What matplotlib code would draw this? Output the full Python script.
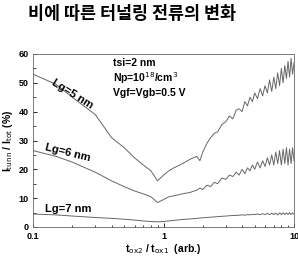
import matplotlib.pyplot as plt
from matplotlib.ticker import MultipleLocator, NullFormatter, LogLocator

x_ratio = [0.1, 0.15, 0.2, 0.3, 0.4, 0.5, 0.6, 0.7, 0.8, 0.9,
           1.0, 1.1, 1.2, 1.4, 1.6, 1.8, 1.9, 2.0,
           2.15, 2.3, 2.45, 2.6, 2.8,
           3.0, 3.2, 3.4, 3.6, 3.8,
           4.0, 4.2, 4.4, 4.6, 4.8,
           5.0, 5.25, 5.5, 5.75,
           6.0, 6.25, 6.5, 6.75,
           7.0, 7.25, 7.5, 7.75,
           8.0, 8.25, 8.5, 8.75,
           9.0, 9.25, 9.5, 9.75, 10.0]

lg5 = [53, 49.5, 45, 39, 31, 27.5, 24, 21.5, 19.5, 16,
       18, 19.5, 20.5, 22, 23.5, 24.5, 23, 26,
       29, 31, 32.5, 33, 35.5,
       36.5, 38.5, 37.5, 40.5, 41,
       40, 43.5, 42, 45, 43.5,
       46.5, 44.5, 48, 45.5,
       49, 46.5, 51, 47,
       52, 48, 53.5, 49,
       55, 50, 56, 51.5,
       57.5, 52, 58.5, 53, 57]

lg6 = [26.5, 24.5, 22.5, 19, 16, 14, 12.5, 11.5, 10.5, 8.5,
       9.5, 10.5, 10.8, 11.5, 12, 12.8, 13.5, 13,
       14.5, 14, 15.5, 15, 17,
       16.5, 18, 17.5, 19, 18,
       20, 18.5, 20.5, 19.5, 21.5,
       20, 22.5, 20.5, 23,
       21, 24, 21.5, 25,
       21.5, 26, 22, 26.5,
       21.5, 27, 22, 27.5,
       21.5, 27, 22, 27.5, 23]

lg7 = [4.5, 4.2, 3.8, 3.3, 3.0, 2.7, 2.4, 2.1, 1.9, 1.8,
       1.9, 2.1, 2.3, 2.6, 2.8, 3.0, 3.1, 3.2,
       3.3, 3.4, 3.5, 3.6, 3.7,
       3.8, 3.9, 4.0, 4.0, 4.1,
       4.2, 4.1, 4.3, 4.2, 4.4,
       4.3, 4.5, 4.3, 4.6,
       4.3, 4.7, 4.3, 4.8,
       4.3, 4.8, 4.2, 4.9,
       4.3, 4.9, 4.3, 4.9,
       4.3, 5.0, 4.3, 4.9, 4.4]

plt.rcParams['font.family'] = ['Liberation Sans', 'Noto Sans CJK KR']

fig = plt.figure(figsize=(2.98, 2.57), dpi=100)
ax = fig.add_axes([33/298, 1 - 227/257, 261/298, 173/257])

for y in (lg5, lg6, lg7):
    ax.plot(x_ratio, y, color='#666666', lw=0.7)

ax.set_xscale('log')
ax.set_xlim(0.1, 10)
ax.set_ylim(0, 60)
ax.set_xticks([0.1, 1, 10])
ax.set_xticklabels(['0.1', '1', '10'])
ax.xaxis.set_minor_locator(LogLocator(base=10, subs=range(2, 10)))
ax.xaxis.set_minor_formatter(NullFormatter())
ax.yaxis.set_major_locator(MultipleLocator(10))
ax.yaxis.set_minor_locator(MultipleLocator(5))
ax.tick_params(which='both', direction='in', labelsize=6.5)
ax.tick_params(axis='y', pad=3)
ax.tick_params(axis='x', pad=3.5)
ax.tick_params(which='major', length=3, width=0.6)
ax.tick_params(which='minor', length=1.8, width=0.5)
for lbl in ax.get_xticklabels() + ax.get_yticklabels():
    lbl.set_fontweight('bold')
for s in ax.spines.values():
    s.set_linewidth(0.6)
    s.set_color('#666666')

ax.set_ylabel(r'I$_{\rm tunn}$ / I$_{\rm tot}$ (%)', fontsize=7.5, fontweight='bold', labelpad=3)
ax.set_xlabel(r't$_{\rm ox2}$ / t$_{\rm ox1}$  (arb.)', fontsize=7.5, fontweight='bold', labelpad=1)

ax.text(0.2, 46, 'Lg=5 nm', rotation=-32, fontsize=8, fontweight='bold',
        ha='center', va='center')
ax.text(0.185, 25.7, 'Lg=6 nm', rotation=-14, fontsize=8, fontweight='bold',
        ha='center', va='center')
ax.text(0.185, 6.4, 'Lg=7 nm', rotation=0, fontsize=8, fontweight='bold',
        ha='center', va='center')

ax.text(0.41, 57, 'tsi=2 nm', fontsize=7.5, fontweight='bold', va='center')
ax.text(0.41, 51.8, r'Np=10$^{18}$/cm$^{3}$', fontsize=7.5, fontweight='bold', va='center')
ax.text(0.41, 46.6, 'Vgf=Vgb=0.5 V', fontsize=7.5, fontweight='bold', va='center')

fig.text(132/298, 1 - 14/257, '비에 따른 터널링 전류의 변화', fontsize=12.5, fontweight='bold',
         ha='center', va='center', family=['Noto Sans CJK KR', 'DejaVu Sans'])

fig.savefig('out.png', dpi=100)
